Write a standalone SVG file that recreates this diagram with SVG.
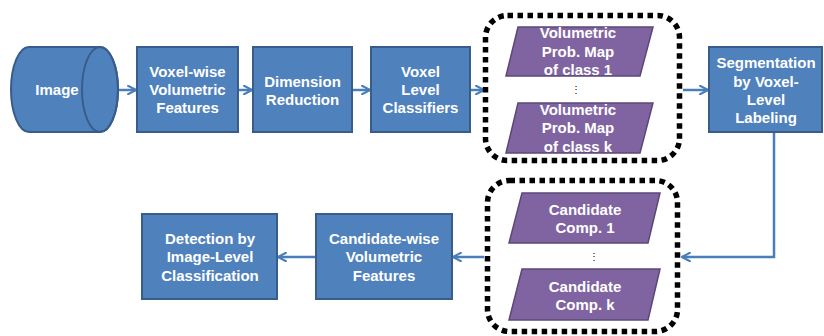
<svg xmlns="http://www.w3.org/2000/svg" width="824" height="336" viewBox="0 0 824 336">
  <style>
    .box { fill: #4F81BD; stroke: #385D8A; stroke-width: 2; }
    .data { fill: #8064A2; stroke: #5C4776; stroke-width: 1.5; }
    .group { fill: none; stroke: #000; stroke-width: 5.5; stroke-dasharray: 5.5 4.5; }
    .lbl { font-family: "Liberation Sans", Arial, sans-serif; font-weight: bold; font-size: 15px; fill: #fff; text-anchor: middle; }
    .dots { font-family: "Liberation Sans", Arial, sans-serif; font-size: 10px; fill: #000; text-anchor: middle; }
    .conn { fill: none; stroke: #4A7EBB; stroke-width: 2.5; marker-end: url(#arrow); }
  </style>
  <defs>
    <marker id="arrow" viewBox="0 0 10 10" refX="8.5" refY="5" markerWidth="4.2" markerHeight="4.2" orient="auto" markerUnits="strokeWidth">
      <path d="M1,1 L8.5,5 L1,9" fill="none" stroke="#4A7EBB" stroke-width="2" stroke-linecap="round" stroke-linejoin="round"/>
    </marker>
  </defs>

  <!-- connectors -->
  <g id="connectors">
    <line class="conn" x1="119" y1="90" x2="136" y2="90"/>
    <line class="conn" x1="239" y1="90" x2="252" y2="90"/>
    <line class="conn" x1="353" y1="90" x2="370" y2="90"/>
    <line class="conn" x1="471" y1="90" x2="484" y2="90"/>
    <line class="conn" x1="683" y1="90" x2="708" y2="90"/>
    <polyline class="conn" points="774,133 774,257 682,257"/>
    <line class="conn" x1="484" y1="257" x2="453" y2="257"/>
    <line class="conn" x1="315" y1="257" x2="278" y2="257"/>
  </g>

  <!-- input volume -->
  <g id="image">
    <path class="box" d="M29,47 L100,47 A18,42.5 0 0 1 100,132 L29,132 A18,42.5 0 0 1 29,47 Z"/>
    <ellipse cx="100" cy="89.5" rx="18" ry="42.5" fill="none" stroke="#385D8A" stroke-width="2"/>
    <text class="lbl" x="57" y="95">Image</text>
  </g>

  <g id="voxel-features">
    <rect class="box" x="137" y="47" width="101" height="85"/>
    <text class="lbl" x="187.5" y="77">Voxel-wise</text>
    <text class="lbl" x="187.5" y="95">Volumetric</text>
    <text class="lbl" x="187.5" y="113">Features</text>
  </g>

  <g id="dim-reduction">
    <rect class="box" x="253" y="47" width="99" height="85"/>
    <text class="lbl" x="302.5" y="87">Dimension</text>
    <text class="lbl" x="302.5" y="105">Reduction</text>
  </g>

  <g id="voxel-classifiers">
    <rect class="box" x="371" y="47" width="99" height="85"/>
    <text class="lbl" x="420.5" y="77">Voxel</text>
    <text class="lbl" x="420.5" y="95">Level</text>
    <text class="lbl" x="420.5" y="113">Classifiers</text>
  </g>

  <!-- probability maps -->
  <g id="prob-maps">
    <rect class="group" x="485.5" y="15.5" width="194" height="145" rx="22"/>
    <g id="prob-map-1">
      <polygon class="data" points="518,27 653,27 640,76 506,76"/>
      <text class="lbl" x="578" y="38">Volumetric</text>
      <text class="lbl" x="578" y="57">Prob. Map</text>
      <text class="lbl" x="578" y="75">of class 1</text>
    </g>
    <text class="dots" x="576" y="93">⋮</text>
    <g id="prob-map-k">
      <polygon class="data" points="518,103 653,103 640,153 506,153"/>
      <text class="lbl" x="578" y="115">Volumetric</text>
      <text class="lbl" x="578" y="133">Prob. Map</text>
      <text class="lbl" x="578" y="152">of class k</text>
    </g>
  </g>

  <g id="segmentation">
    <rect class="box" x="709" y="47" width="113" height="85"/>
    <text class="lbl" x="766" y="68">Segmentation</text>
    <text class="lbl" x="766" y="87">by Voxel-</text>
    <text class="lbl" x="766" y="105">Level</text>
    <text class="lbl" x="766" y="123">Labeling</text>
  </g>

  <!-- candidate components -->
  <g id="candidates">
    <rect class="group" x="487.5" y="180.5" width="190" height="151" rx="22"/>
    <g id="candidate-1">
      <polygon class="data" points="522,193 660,193 648,243 509,243"/>
      <text class="lbl" x="585" y="215">Candidate</text>
      <text class="lbl" x="585" y="233">Comp. 1</text>
    </g>
    <text class="dots" x="594" y="260">⋮</text>
    <g id="candidate-k">
      <polygon class="data" points="522,269 660,269 648,320 509,320"/>
      <text class="lbl" x="585" y="292">Candidate</text>
      <text class="lbl" x="585" y="310">Comp. k</text>
    </g>
  </g>

  <g id="candidate-features">
    <rect class="box" x="316" y="214" width="136" height="85"/>
    <text class="lbl" x="384" y="244">Candidate-wise</text>
    <text class="lbl" x="384" y="262">Volumetric</text>
    <text class="lbl" x="384" y="281">Features</text>
  </g>

  <g id="detection">
    <rect class="box" x="142" y="214" width="135" height="85"/>
    <text class="lbl" x="210" y="244">Detection by</text>
    <text class="lbl" x="210" y="262">Image-Level</text>
    <text class="lbl" x="210" y="281">Classification</text>
  </g>
</svg>
